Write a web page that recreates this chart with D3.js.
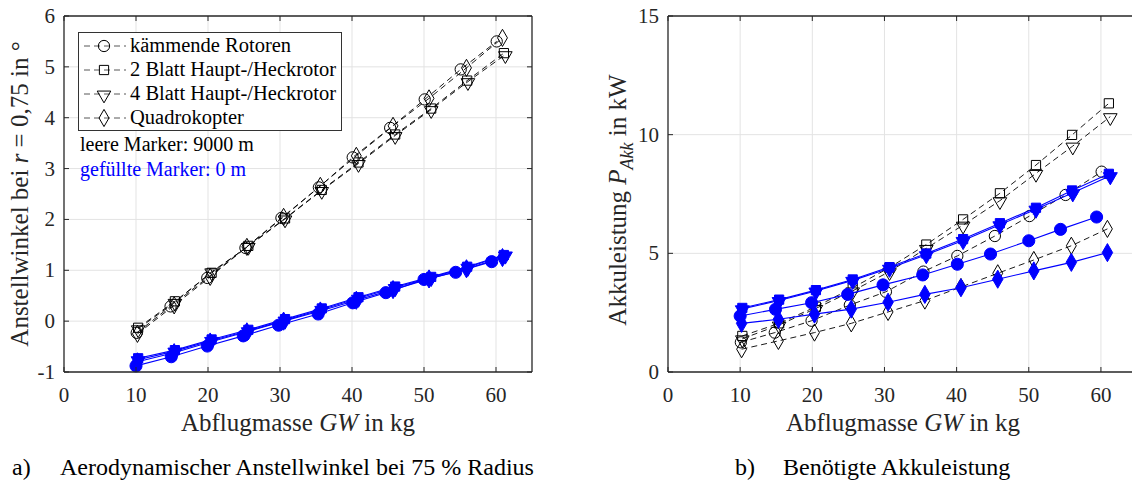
<!DOCTYPE html>
<html><head><meta charset="utf-8">
<script src="https://cdn.jsdelivr.net/npm/d3@7"></script>
<style>body{margin:0;background:#fff;}</style>
</head><body>
<svg id="c" width="1132" height="486" font-family="'Liberation Serif', 'Times New Roman', Times, serif"></svg>
<script>
// ---- data ----
const seriesNames = ["kämmende Rotoren","2 Blatt Haupt-/Heckrotor","4 Blatt Haupt-/Heckrotor","Quadrokopter"];
const seriesMarkers = ["circle","square","triangle","diamond"];
const xTicks = [0,10,20,30,40,50,60];
const yTicksA = [-1,0,1,2,3,4,5,6];
const yTicksB = [0,5,10,15];

// GW values (kg)
const gwCirc9 = [10.1,14.8,19.9,25.2,30.2,35.4,40.1,45.3,50.1,55.1,60.1];
const gwCirc0 = [10.0,14.9,19.9,24.9,29.8,35.3,40.1,44.7,50.0,54.4,59.4];
const gwSq    = [10.3,15.4,20.5,25.6,30.7,35.8,40.9,46.0,51.0,56.0,61.1];
const gwTri   = [10.3,15.4,20.5,25.6,30.7,35.8,40.9,46.0,51.0,56.1,61.3];
const gwDia   = [10.2,15.3,20.3,25.4,30.5,35.6,40.6,45.7,50.7,55.9,60.9];

// a) angle at 9000 m (empty markers)
const aCirc9 = [-0.23,0.29,0.85,1.44,2.03,2.63,3.22,3.80,4.36,4.95,5.50];
const aSq9   = [-0.13,0.39,0.95,1.48,2.02,2.58,3.12,3.67,4.18,4.73,5.27];
const aTri9  = [-0.15,0.37,0.97,1.47,2.01,2.57,3.10,3.65,4.16,4.71,5.24];
const aDia9  = [-0.25,0.31,0.87,1.46,2.05,2.66,3.25,3.84,4.38,4.98,5.57];
// a) angle at 0 m (filled markers)
const aCirc0 = [-0.88,-0.70,-0.49,-0.29,-0.08,0.14,0.36,0.56,0.82,0.96,1.17];
const aSq0   = [-0.73,-0.57,-0.36,-0.17,0.04,0.25,0.47,0.68,0.87,1.07,1.30];
const aTri0  = [-0.76,-0.59,-0.38,-0.19,0.02,0.23,0.45,0.66,0.86,1.06,1.30];
const aDia0  = [-0.80,-0.62,-0.41,-0.21,0.00,0.20,0.41,0.62,0.83,1.03,1.25];

// b) battery power at 9000 m
const bCirc9 = [1.25,1.66,2.16,2.82,3.38,4.23,4.89,5.73,6.57,7.46,8.44];
const bSq9   = [1.52,2.05,2.75,3.55,4.40,5.37,6.43,7.53,8.72,9.99,11.32];
const bTri9  = [1.40,1.98,2.68,3.42,4.23,5.21,6.19,7.22,8.37,9.52,10.76];
const bDia9  = [0.96,1.31,1.66,2.05,2.53,3.01,3.58,4.16,4.72,5.32,6.03];
// b) battery power at 0 m
const bCirc0 = [2.36,2.64,2.92,3.27,3.67,4.09,4.54,4.97,5.53,6.01,6.53];
const bSq0   = [2.70,3.05,3.45,3.90,4.42,4.99,5.60,6.27,6.92,7.65,8.35];
const bTri0  = [2.66,3.01,3.41,3.86,4.37,4.94,5.54,6.20,6.86,7.55,8.27];
const bDia0  = [2.05,2.22,2.44,2.65,2.94,3.27,3.55,3.91,4.26,4.62,5.03];

const svg = d3.select("#c");
const BLUE = "#0000ff";
const FONT = "'Liberation Serif', 'Times New Roman', Times, serif";

function markerPath(type, filled){
  if(type==="circle") return d3.symbol(d3.symbolCircle, filled?115:100)();
  if(type==="square") return d3.symbol(d3.symbolSquare, 85)();
  if(type==="triangle") return d3.symbol(d3.symbolTriangle, filled?85:80)();
  return d3.symbol(d3.symbolDiamond, filled?95:85)();
}
function markerTransform(type,x,y){
  return type==="triangle" ? `translate(${x},${y+1}) rotate(180)` : `translate(${x},${y})`;
}

function panel(opt){
  const {x0,x1,y0,y1,ydom,yticks,series} = opt;
  const x = d3.scaleLinear().domain([0,65]).range([x0,x1]);
  const y = d3.scaleLinear().domain(ydom).range([y1,y0]);
  const g = svg.append("g");
  g.append("g").selectAll("line").data(xTicks.filter(t=>t>0)).join("line")
    .attr("x1",d=>x(d)).attr("x2",d=>x(d)).attr("y1",y0).attr("y2",y1)
    .attr("stroke","#e3e3e3").attr("stroke-width",1);
  g.append("g").selectAll("line").data(yticks.slice(1,-1)).join("line")
    .attr("y1",d=>y(d)).attr("y2",d=>y(d)).attr("x1",x0).attr("x2",x1)
    .attr("stroke","#e3e3e3").attr("stroke-width",1);
  const line = d3.line().x(d=>x(d[0])).y(d=>y(d[1]));
  series.forEach(s=>{
    const pts = s.gw.map((v,i)=>[v,s.v[i]]);
    g.append("path").attr("d",line(pts)).attr("fill","none")
      .attr("stroke",s.filled?BLUE:"#000").attr("stroke-width",s.filled?1.1:0.9)
      .attr("stroke-dasharray",s.filled?null:"6,4");
    g.append("g").selectAll("path").data(pts).join("path")
      .attr("d",markerPath(s.m,s.filled)).attr("transform",d=>markerTransform(s.m,x(d[0]),y(d[1])))
      .attr("fill",s.filled?BLUE:"none").attr("stroke",s.filled?BLUE:"#000").attr("stroke-width",1);
  });
  const ax = svg.append("g").attr("fill","none").attr("stroke","#262626").attr("stroke-width",1.3);
  ax.append("line").attr("x1",x0).attr("x2",x1).attr("y1",y1).attr("y2",y1);
  ax.append("line").attr("x1",x0).attr("x2",x1).attr("y1",y0).attr("y2",y0);
  ax.append("line").attr("x1",x0).attr("x2",x0).attr("y1",y0).attr("y2",y1);
  ax.append("line").attr("x1",x1).attr("x2",x1).attr("y1",y0).attr("y2",y1);
  const tk = svg.append("g").attr("stroke","#262626").attr("stroke-width",1);
  xTicks.forEach(t=>{
    tk.append("line").attr("x1",x(t)).attr("x2",x(t)).attr("y1",y1).attr("y2",y1-5);
    tk.append("line").attr("x1",x(t)).attr("x2",x(t)).attr("y1",y0).attr("y2",y0+5);
  });
  yticks.forEach(t=>{
    tk.append("line").attr("x1",x0).attr("x2",x0+5).attr("y1",y(t)).attr("y2",y(t));
    tk.append("line").attr("x1",x1).attr("x2",x1-5).attr("y1",y(t)).attr("y2",y(t));
  });
  svg.append("g").selectAll("text").data(xTicks).join("text")
    .attr("x",d=>x(d)).attr("y",y1+30).attr("text-anchor","middle").attr("font-family",FONT)
    .attr("font-size",21).attr("fill","#262626").text(d=>d);
  svg.append("g").selectAll("text").data(yticks).join("text")
    .attr("x",x0-9).attr("y",d=>y(d)+7).attr("text-anchor","end").attr("font-family",FONT)
    .attr("font-size",21).attr("fill","#262626").text(d=>d);
  return {x,y};
}

panel({x0:64,x1:532,y0:16,y1:372,ydom:[-1,6],yticks:yTicksA,series:[
  {gw:gwCirc9,v:aCirc9,m:"circle",filled:false},
  {gw:gwSq,v:aSq9,m:"square",filled:false},
  {gw:gwTri,v:aTri9,m:"triangle",filled:false},
  {gw:gwDia,v:aDia9,m:"diamond",filled:false},
  {gw:gwCirc0,v:aCirc0,m:"circle",filled:true},
  {gw:gwSq,v:aSq0,m:"square",filled:true},
  {gw:gwTri,v:aTri0,m:"triangle",filled:true},
  {gw:gwDia,v:aDia0,m:"diamond",filled:true},
]});
panel({x0:668,x1:1137,y0:16,y1:372,ydom:[0,15],yticks:yTicksB,series:[
  {gw:gwCirc9,v:bCirc9,m:"circle",filled:false},
  {gw:gwSq,v:bSq9,m:"square",filled:false},
  {gw:gwTri,v:bTri9,m:"triangle",filled:false},
  {gw:gwDia,v:bDia9,m:"diamond",filled:false},
  {gw:gwCirc0,v:bCirc0,m:"circle",filled:true},
  {gw:gwSq,v:bSq0,m:"square",filled:true},
  {gw:gwTri,v:bTri0,m:"triangle",filled:true},
  {gw:gwDia,v:bDia0,m:"diamond",filled:true},
]});

// legend
const lg = svg.append("g").attr("font-family",FONT);
lg.append("rect").attr("x",78.5).attr("y",32.5).attr("width",263).attr("height",98)
  .attr("fill","#fff").attr("stroke","#333").attr("stroke-width",1);
seriesNames.forEach((n,i)=>{
  const cy = 46 + i*24;
  lg.append("line").attr("x1",84).attr("x2",126).attr("y1",cy).attr("y2",cy)
    .attr("stroke","#444").attr("stroke-width",0.9).attr("stroke-dasharray","6,4");
  lg.append("path").attr("d",markerPath(seriesMarkers[i],false)).attr("transform",markerTransform(seriesMarkers[i],104,cy))
    .attr("fill","none").attr("stroke","#000").attr("stroke-width",1);
  lg.append("text").attr("x",130).attr("y",cy+6).attr("font-size",20.5).attr("fill","#000").text(n);
});
svg.append("text").attr("font-family",FONT).attr("x",80).attr("y",151).attr("font-size",20).attr("fill","#000").text("leere Marker: 9000 m");
svg.append("text").attr("font-family",FONT).attr("x",80).attr("y",176).attr("font-size",20).attr("fill",BLUE).text("gefüllte Marker: 0 m");

function xlabel(cx){
  const t = svg.append("text").attr("font-family",FONT).attr("x",cx).attr("y",431).attr("text-anchor","middle").attr("font-size",25).attr("fill","#262626");
  t.append("tspan").text("Abflugmasse ");
  t.append("tspan").attr("font-style","italic").text("GW");
  t.append("tspan").text(" in kg");
}
xlabel(298); xlabel(903);
const yl1 = svg.append("text").attr("font-family",FONT).attr("transform","translate(28,194) rotate(-90)").attr("text-anchor","middle").attr("font-size",25).attr("fill","#262626");
yl1.append("tspan").text("Anstellwinkel bei ");
yl1.append("tspan").attr("font-style","italic").text("r");
yl1.append("tspan").text(" = 0,75 in °");
const yl2 = svg.append("text").attr("font-family",FONT).attr("transform","translate(626,200) rotate(-90)").attr("text-anchor","middle").attr("font-size",25).attr("fill","#262626");
yl2.append("tspan").text("Akkuleistung ");
yl2.append("tspan").attr("font-style","italic").text("P");
yl2.append("tspan").attr("font-style","italic").attr("font-size",18).attr("dy",7).text("Akk");
yl2.append("tspan").attr("dy",-7).text(" in kW");

const cap = svg.append("g").attr("font-family",FONT).attr("font-size",24).attr("fill","#000");
cap.append("text").attr("x",12).attr("y",475).text("a)");
cap.append("text").attr("x",60).attr("y",475).text("Aerodynamischer Anstellwinkel bei 75 % Radius");
cap.append("text").attr("x",735).attr("y",475).text("b)");
cap.append("text").attr("x",783).attr("y",475).text("Benötigte Akkuleistung");
</script>
</body></html>
